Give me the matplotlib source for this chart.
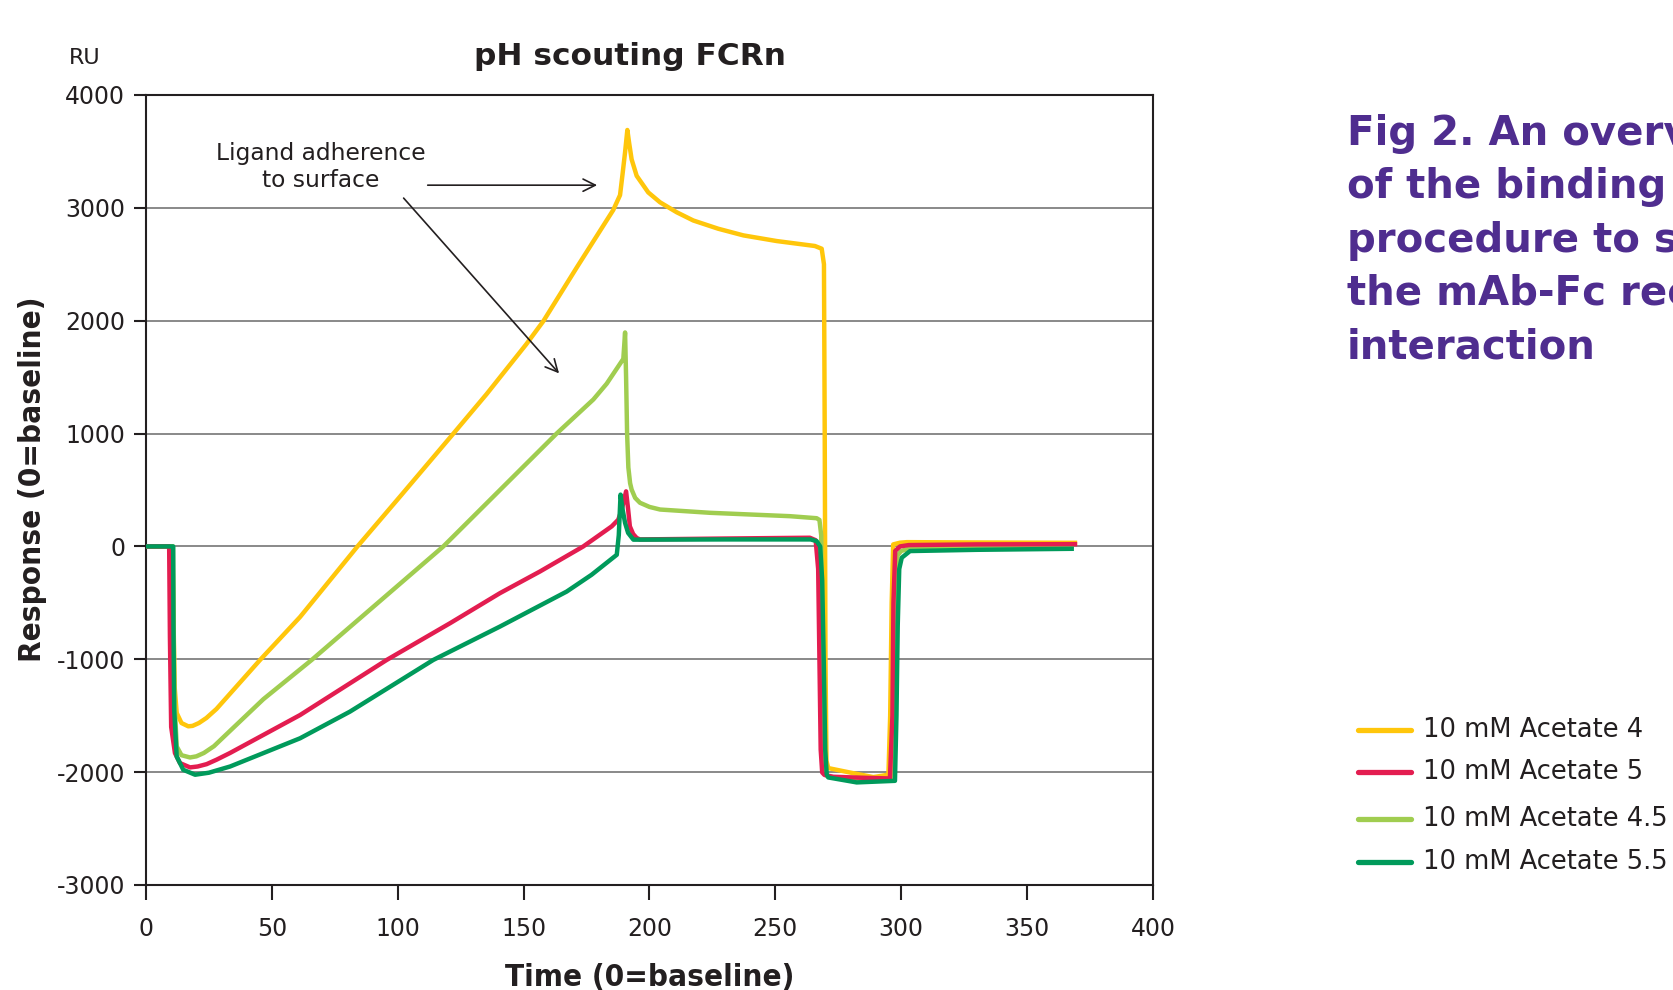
import matplotlib
matplotlib.use("Agg")
import matplotlib.pyplot as plt
from matplotlib.lines import Line2D

# ---------------- data ----------------
t_ac4 = [0, 10.5, 10.9, 11.4, 12.2, 14.1, 16.8, 18.5, 21.0, 24.0, 28.0, 45.3, 61.2, 84.0,
         101.6, 122.1, 135.3, 151.0, 157.8, 171.0, 185.6, 188.3, 189.3, 190.3, 191.2,
         191.9, 192.9, 194.9, 199.5, 204.2, 210.8, 217.4, 227.3, 237.3, 250.5, 265.7,
         268.4, 269.3, 269.6, 269.9, 270.3, 271.0, 280.0, 288.9, 294.9, 295.6, 296.2,
         296.8, 299.5, 302.2, 330.0, 369.0]
y_ac4 = [0, 0, -600, -1250, -1476, -1565, -1594, -1590, -1565, -1520, -1440, -1006, -625, 0,
         460, 1000, 1350, 1790, 1995, 2468, 2981, 3113, 3300, 3494, 3690,
         3577, 3430, 3284, 3137, 3049, 2961, 2888, 2815, 2756, 2706, 2662,
         2638, 2500, 1000, -1000, -1900, -1964, -2005, -2044, -2023, -1500, -500,
         18, 33, 38, 35, 32]

t_ac5 = [0, 9.2, 9.5, 10.0, 11.5, 13.5, 17.5, 20.5, 24.1, 28.0, 33.4, 61.2, 95.6, 120.8,
         140.6, 156.5, 173.7, 185.0, 187.6, 189.0, 190.7, 191.5, 192.2, 193.5, 194.9,
         196.2, 230.0, 263.7, 266.0, 267.0, 267.5, 268.0, 268.6, 269.5, 273.0, 285.0,
         295.5, 296.5, 296.9, 297.6, 299.5, 303.0, 330.0, 369.0]
y_ac5 = [0, 0, -800, -1600, -1831, -1920, -1958, -1950, -1929, -1890, -1830, -1494, -1006, -680,
         -414, -222, 0, 178, 237, 330, 488, 330, 178, 110, 75,
         62, 70, 77, 55, -200, -1000, -1800, -2003, -2025, -2041, -2050,
         -2056, -1500, -500, -40, 0, 12, 18, 20]

t_ac45 = [0, 10.7, 10.9, 11.3, 12.2, 14.1, 17.5, 20.0, 23.0, 27.0, 35.0, 46.6, 65.8, 118.1,
          163.1, 177.7, 183.0, 189.6, 190.3, 190.7, 191.1, 191.6, 192.3, 192.9, 194.3,
          196.2, 200.0, 204.2, 224.0, 255.8, 266.4, 267.5, 268.2, 268.6, 269.0, 269.8,
          271.0, 282.0, 296.5, 297.3, 297.8, 298.5, 300.0, 304.0, 330.0, 367.7]
y_ac45 = [0, 0, -600, -1358, -1772, -1850, -1870, -1860, -1830, -1770, -1600, -1354, -1006, 0,
          1000, 1302, 1442, 1662, 1896, 1500, 1000, 700, 560, 504, 430,
          387, 350, 327, 298, 268, 250, 235, 100, -1000, -1900, -2020,
          -2040, -2070, -2060, -1500, -500, -80, -40, -15, -5, 0]

t_ac55 = [0, 10.8, 10.9, 11.2, 12.2, 14.8, 19.5, 25.0, 33.4, 61.2, 81.0, 114.1, 140.6,
          167.1, 177.0, 187.0, 187.8, 188.5, 189.3, 190.3, 191.5, 193.6, 196.0, 230.0,
          264.0, 266.4, 267.8, 268.6, 269.2, 269.8, 270.4, 271.0, 282.3, 297.5, 298.1,
          298.6, 299.2, 300.2, 303.5, 330.0, 367.7]
y_ac55 = [0, 0, -700, -1450, -1862, -1979, -2023, -2005, -1950, -1700, -1464, -1006, -710,
          -400, -251, -74, 100, 459, 330, 208, 120, 60, 60, 62,
          62, 47, 0, -300, -1000, -1800, -2020, -2047, -2091, -2077, -1500,
          -700, -200, -100, -41, -30, -21]

series_labels = ["10 mM Acetate 4", "10 mM Acetate 5", "10 mM Acetate 4.5", "10 mM Acetate 5.5"]
series_colors = ["#FFC60B", "#E31D50", "#A0CD50", "#009A5B"]

y_ticks = [-3000, -2000, -1000, 0, 1000, 2000, 3000, 4000]
x_ticks = [0, 50, 100, 150, 200, 250, 300, 350, 400]

caption_lines = ["Fig 2. An overview", "of the binding", "procedure to study",
                 "the mAb-Fc receptor", "interaction"]

TXT = "#231F20"
W, H = 1674, 990

fig = plt.figure(figsize=(W / 100, H / 100), dpi=100)
ax = fig.add_axes([146 / W, 105 / H, 1007 / W, 790 / H])

LW = 3.2
# draw order: yellow, light green, red, green
ax.plot(t_ac4, y_ac4, color=series_colors[0], lw=LW, solid_joinstyle="round", zorder=3)
ax.plot(t_ac45, y_ac45, color=series_colors[2], lw=LW, solid_joinstyle="round", zorder=4)
ax.plot(t_ac5, y_ac5, color=series_colors[1], lw=LW, solid_joinstyle="round", zorder=5)
ax.plot(t_ac55, y_ac55, color=series_colors[3], lw=LW, solid_joinstyle="round", zorder=6)

ax.set_xlim(0, 400)
ax.set_ylim(-3000, 4000)
ax.set_xticks(x_ticks)
ax.set_yticks(y_ticks)
ax.set_xticklabels([str(v) for v in x_ticks])
ax.set_yticklabels([str(v) for v in y_ticks])
ax.yaxis.grid(True, color="#767676", lw=1.2)
ax.set_axisbelow(True)
for s in ax.spines.values():
    s.set_color(TXT)
    s.set_linewidth(1.5)
ax.tick_params(axis="y", direction="out", length=9, width=1.5, pad=6,
               labelsize=17, colors=TXT)
ax.tick_params(axis="x", direction="out", length=11, width=1.5, pad=12,
               labelsize=17, colors=TXT)

# annotation
ax.text(69.5, 3360, "Ligand adherence\nto surface", ha="center", va="center",
        fontsize=16.8, color=TXT)
ax.annotate("", xy=(180.3, 3201), xytext=(110.8, 3201),
            arrowprops=dict(arrowstyle="->", color=TXT, lw=1.2, mutation_scale=22))
ax.annotate("", xy=(164.8, 1515), xytext=(101.6, 3105),
            arrowprops=dict(arrowstyle="->", color=TXT, lw=1.2, mutation_scale=22))

# titles / labels
fig.text(630 / W, 1 - 56.5 / H, "pH scouting FCRn", ha="center", va="center",
         fontsize=22.5, fontweight="bold", color=TXT)
fig.text(85 / W, 1 - 58 / H, "RU", ha="center", va="center", fontsize=16, color=TXT)
fig.text(33 / W, 1 - 479 / H, "Response (0=baseline)", rotation=90, ha="center",
         va="center", fontsize=22.5, fontweight="bold", fontstretch="condensed", color=TXT)
fig.text(650 / W, 1 - 977 / H, "Time (0=baseline)", ha="center", va="center",
         fontsize=22.5, fontweight="bold", fontstretch="condensed", color=TXT)

# caption on the right (clipped at the figure edge, as in the reference)
cap_base = [145, 198.3, 251.7, 305, 358.3]
for line, yb in zip(caption_lines, cap_base):
    fig.text(1347 / W, 1 - yb / H, line, ha="left", va="baseline", fontsize=29,
             fontweight="bold", color="#4F2D8F")

# legend (manual)
leg_y = [730, 771.7, 819, 861.7]
for lab, col, yy in zip(series_labels, series_colors, leg_y):
    fig.add_artist(Line2D([1358 / W, 1411 / W], [1 - yy / H, 1 - yy / H],
                          transform=fig.transFigure, color=col, lw=3.8,
                          solid_capstyle="round"))
    fig.text(1423 / W, 1 - yy / H, lab, ha="left", va="center", fontsize=18.5, color=TXT)

fig.savefig("out.png", dpi=100)
